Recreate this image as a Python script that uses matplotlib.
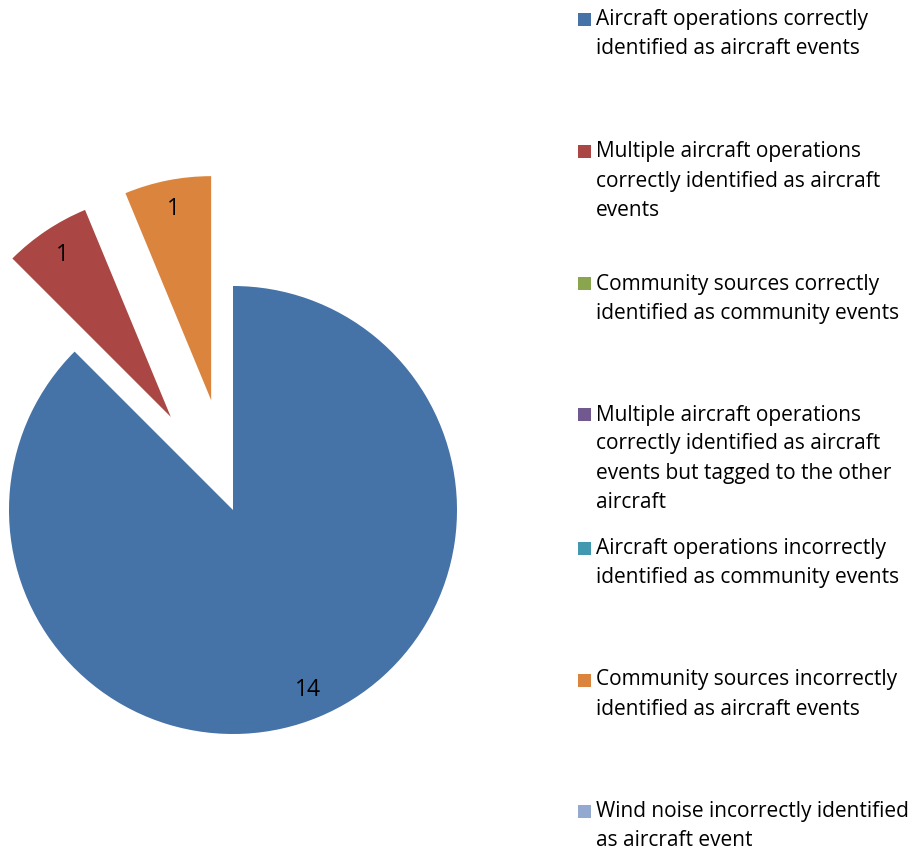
import matplotlib
matplotlib.use("Agg")
import matplotlib.pyplot as plt
from matplotlib.patches import Rectangle

# Résultats de classification des événements
categories = [
    "Aircraft operations correctly\nidentified as aircraft events",
    "Multiple aircraft operations\ncorrectly identified as aircraft\nevents",
    "Community sources correctly\nidentified as community events",
    "Multiple aircraft operations\ncorrectly identified as aircraft\nevents but tagged to the other\naircraft",
    "Aircraft operations incorrectly\nidentified as community events",
    "Community sources incorrectly\nidentified as aircraft events",
    "Wind noise incorrectly identified\nas aircraft event",
]
counts = [14, 1, 0, 0, 0, 1, 0]
colors = ["#4572A7", "#AA4643", "#89A54E", "#71588F", "#4198AF", "#DB843D", "#93A9CF"]
explode = [0, 0.5, 0, 0, 0, 0.5, 0]

W, H = 919, 855
plt.rcParams['font.family'] = ['Open Sans', 'DejaVu Sans']

fig = plt.figure(figsize=(W / 100, H / 100), dpi=100)
fig.patch.set_facecolor('white')

# Axes couvrant toute la figure, 224 px par unité de rayon
scale = 224.0
cx, cy = 233.0, H - 510.0
ax = fig.add_axes([0, 0, 1, 1])
labels = [str(v) if v else '' for v in counts]
ax.pie(counts, colors=colors, explode=explode, startangle=90, counterclock=False,
       labels=labels, labeldistance=0.87,
       textprops=dict(ha='center', va='center', fontsize=16.5, color='black'),
       wedgeprops=dict(linewidth=0))
ax.set_xlim(-cx / scale, (W - cx) / scale)
ax.set_ylim(-cy / scale, (H - cy) / scale)
ax.set_aspect('equal')
ax.axis('off')

# Légende dessinée ligne par ligne
first_line_y = [20, 152, 284, 415, 548, 680, 811]
line_step = 29
for label, color, y0 in zip(categories, colors, first_line_y):
    fig.patches.append(Rectangle(((578) / W, 1 - (y0 + 6.5) / H), 13 / W, 13 / H,
                                 transform=fig.transFigure, facecolor=color,
                                 edgecolor='none'))
    for i, line in enumerate(label.split("\n")):
        fig.text(596 / W, 1 - (y0 + i * line_step) / H, line, ha='left', va='center',
                 fontsize=15, color='black')

fig.savefig("out.png", dpi=100, facecolor='white')
